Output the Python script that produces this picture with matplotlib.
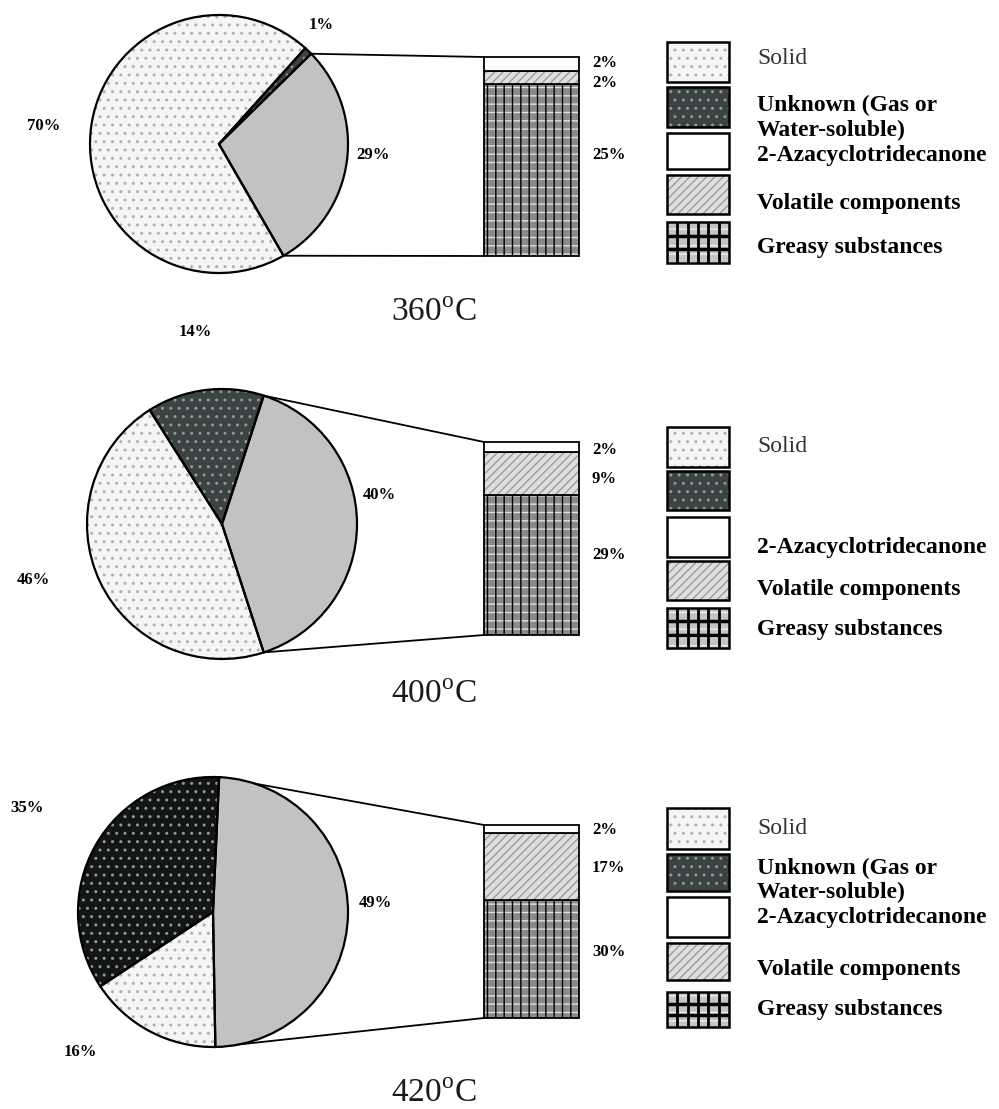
import matplotlib
matplotlib.use('Agg')
import matplotlib.pyplot as plt
from matplotlib.patches import Rectangle, ConnectionPatch
from matplotlib.lines import Line2D
import numpy as np

plt.rcParams['hatch.linewidth'] = 1.0
plt.rcParams['font.family'] = ['Liberation Serif', 'DejaVu Serif']
plt.rcParams['mathtext.fontset'] = 'custom'
plt.rcParams['mathtext.rm'] = 'Liberation Serif'

# ---------------- data ----------------
temperatures = ['360', '400', '420']
solid = [70, 46, 16]
unknown = [1, 14, 35]
azacyclo = [2, 2, 2]
volatile = [2, 9, 17]
greasy = [25, 29, 30]
legend_labels = ['Solid', ['Unknown (Gas or', 'Water-soluble)'], '2-Azacyclotridecanone',
                 'Volatile components', 'Greasy substances']

# ---------------- layout / style ----------------
W, H = 999, 1109
fig = plt.figure(figsize=(W / 100, H / 100), dpi=100)


def rect(x0, y0, x1, y1):
    return [x0 / W, 1 - y1 / H, (x1 - x0) / W, (y1 - y0) / H]


def fx(x):
    return x / W


def fy(y):
    return 1 - y / H


pie_geom = [(219, 144, 129), (222, 524, 135), (213, 912, 135)]
start_angles = [-60, -72, -89]
bar_box = [(484, 57, 579, 256), (484, 442, 579, 635), (484, 825, 579, 1018)]
pie_label_pos = [
    {'solid': (44, 126), 'unknown': (321, 25), 'oil': (373, 155)},
    {'solid': (33, 580), 'unknown': (195, 332), 'oil': (379, 495)},
    {'solid': (80, 1052), 'unknown': (27, 808), 'oil': (375, 903)},
]
bar_label_y = [(63, 83, 155), (450, 479, 555), (830, 868, 952)]
temp_label_y = [313, 695, 1094]
legend_patch_y = [
    [(42, 82), (87, 127), (133, 169), (175, 214), (222, 263)],
    [(427, 467), (471, 510), (517, 557), (561, 600), (608, 648)],
    [(808, 849), (854, 891), (897, 937), (943, 980), (992, 1027)],
]
legend_text_y = [
    [58, (105, 130), 155, 203, 248],
    [447, None, 547, 589, 629],
    [828, (868, 892), 917, 970, 1010],
]
LX0, LX1, TX = 667, 729, 757

solid_face, solid_hatch = '#f5f5f5', '#b0b0b0'
unk_faces = ['#3b4343', '#3b4343', '#141616']
unk_hatch = '#8f9999'
oil_face = '#c2c2c2'
aza_face = 'white'
vol_face, vol_hatch = '#dedede', '#9c9c9c'
gr_face, gr_hatch = '#8a8a8a', '#e2e2e2'

pct_font = dict(fontsize=12, fontweight='bold', color='black')
leg_font = dict(fontsize=17, fontweight='bold', color='black')

for i in range(3):
    cx, cy, r = pie_geom[i]
    oil = azacyclo[i] + volatile[i] + greasy[i]
    vals = [oil, unknown[i], solid[i]]
    total = sum(vals)

    # ---- pie ----
    pax = fig.add_axes(rect(cx - r, cy - r, cx + r, cy + r))
    faces = [oil_face, unk_faces[i], solid_face]
    hatches = ['', '..', '..']
    hcols = [oil_face, unk_hatch, solid_hatch]
    wedges, _ = pax.pie(vals, colors=faces, hatch=hatches, startangle=start_angles[i],
                        counterclock=True, radius=1)
    for w, hc in zip(wedges, hcols):
        w.set_edgecolor(hc)
        w.set_linewidth(0)
        w.set_clip_on(False)
    wedges2, _ = pax.pie(vals, colors=['none'] * 3, startangle=start_angles[i],
                         counterclock=True, radius=1,
                         wedgeprops=dict(edgecolor='black', linewidth=1.6, fill=False))
    for w in wedges2:
        w.set_clip_on(False)
    pax.set_xlim(-1, 1)
    pax.set_ylim(-1, 1)
    pax.set_aspect('auto')
    pax.axis('off')

    # ---- bar ----
    x0, y0, x1, y1 = bar_box[i]
    bax = fig.add_axes(rect(x0, y0, x1, y1))
    bax.bar(0, greasy[i], width=1, color=gr_face, hatch='--', edgecolor=gr_hatch, linewidth=0)
    bax.bar(0, greasy[i], width=1, fill=False, hatch='||', edgecolor='black', linewidth=1.3)
    bax.bar(0, volatile[i], bottom=greasy[i], width=1, color=vol_face, hatch='////',
            edgecolor=vol_hatch, linewidth=0)
    bax.bar(0, volatile[i], bottom=greasy[i], width=1, fill=False, edgecolor='black', linewidth=1.3)
    bax.bar(0, azacyclo[i], bottom=greasy[i] + volatile[i], width=1, color=aza_face,
            edgecolor='black', linewidth=1.3)
    bax.set_xlim(-0.5, 0.5)
    bax.set_ylim(0, oil)
    bax.axis('off')
    for p in bax.patches:
        p.set_clip_on(False)

    # ---- connecting lines ----
    a0 = np.deg2rad(start_angles[i])
    a1 = np.deg2rad(start_angles[i] + 360 * oil / total)
    for ang, yb in [(a1, oil), (a0, 0)]:
        con = ConnectionPatch(xyA=(np.cos(ang), np.sin(ang)), coordsA=pax.transData,
                              xyB=(-0.5, yb), coordsB=bax.transData,
                              color='black', linewidth=1.3, zorder=-1)
        fig.add_artist(con)

    # ---- pie labels ----
    lp = pie_label_pos[i]
    for key, v in [('solid', solid[i]), ('unknown', unknown[i]), ('oil', oil)]:
        px, py = lp[key]
        fig.text(fx(px), fy(py), f'{v}%', ha='center', va='center', **pct_font)

    # ---- bar labels ----
    for v, ly in zip([azacyclo[i], volatile[i], greasy[i]], bar_label_y[i]):
        fig.text(fx(592), fy(ly), f'{v}%', ha='left', va='center', **pct_font)

    # ---- temperature ----
    fig.text(fx(434), fy(temp_label_y[i]), temperatures[i] + r'$^{\mathrm{o}}$C',
             ha='center', va='center', fontsize=24, color='#1a1a1a')

    # ---- legend ----
    styles = [
        dict(facecolor=solid_face, hatch='..', edgecolor=solid_hatch, linewidth=0),
        dict(facecolor=unk_faces[0], hatch='..', edgecolor=unk_hatch, linewidth=0),
        dict(facecolor=aza_face, linewidth=0),
        dict(facecolor=vol_face, hatch='////', edgecolor=vol_hatch, linewidth=0),
        dict(facecolor='#c4c4c4', hatch='--', edgecolor='#eeeeee', linewidth=0),
    ]
    for k in range(5):
        ly0, ly1 = legend_patch_y[i][k]
        fig.add_artist(Rectangle((fx(LX0), fy(ly1)), (LX1 - LX0) / W, (ly1 - ly0) / H,
                                 transform=fig.transFigure, **styles[k]))
        if k == 4:
            # grid swatch of the greasy pattern
            for gx in np.linspace(LX0, LX1, 7)[1:-1]:
                fig.add_artist(Line2D([fx(gx), fx(gx)], [fy(ly0), fy(ly1)],
                                      transform=fig.transFigure, color='black', lw=2,
                                      solid_capstyle='butt'))
            for gy in np.linspace(ly0, ly1, 4)[1:-1]:
                fig.add_artist(Line2D([fx(LX0), fx(LX1)], [fy(gy), fy(gy)],
                                      transform=fig.transFigure, color='black', lw=2.5,
                                      solid_capstyle='butt'))
        fig.add_artist(Rectangle((fx(LX0), fy(ly1)), (LX1 - LX0) / W, (ly1 - ly0) / H,
                                 transform=fig.transFigure, fill=False, edgecolor='black',
                                 linewidth=1.8))
        ty = legend_text_y[i][k]
        lab = legend_labels[k]
        if ty is None:
            continue
        if isinstance(lab, list):
            for t, yy in zip(lab, ty):
                fig.text(fx(TX), fy(yy), t, ha='left', va='center', **leg_font)
        else:
            f = dict(leg_font)
            if k == 0:
                f.update(fontweight='normal', color='#333333')
            fig.text(fx(TX), fy(ty), lab, ha='left', va='center', **f)

fig.savefig('out.png', dpi=100, facecolor='white')
